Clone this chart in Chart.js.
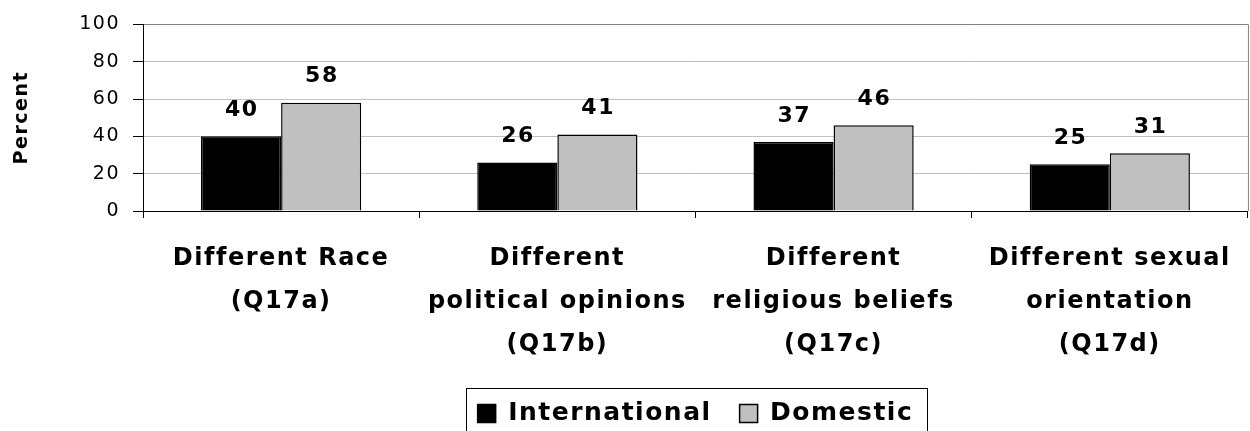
<!DOCTYPE html>
<html>
<head>
<meta charset="utf-8">
<script src="https://cdn.jsdelivr.net/npm/chart.js@4.4.0/dist/chart.umd.min.js"></script>
<style>
  html, body { margin: 0; padding: 0; background: #fff; overflow: hidden; }
  canvas { display: block; }
</style>
</head>
<body>
<canvas id="chart" width="1250" height="431"></canvas>
<script>
// Categories (multi-line labels) and series values, in percent
const categories = [
  ['Different Race', '(Q17a)'],
  ['Different', 'political opinions', '(Q17b)'],
  ['Different', 'religious beliefs', '(Q17c)'],
  ['Different sexual', 'orientation', '(Q17d)']
];
const international = [40, 26, 37, 25];
const domestic = [58, 41, 46, 31];
const yTickValues = [0, 20, 40, 60, 80, 100];
const seriesNames = ['International', 'Domestic'];

const FONT = 'DejaVu Sans';
const SPACING = '1.5px';

// Slightly letter-spaced lettering for every text drawn on the canvas
const textSpacing = {
  id: 'textSpacing',
  beforeUpdate(chart) { chart.ctx.letterSpacing = SPACING; },
  beforeLayout(chart) { chart.ctx.letterSpacing = SPACING; },
  beforeDraw(chart) { chart.ctx.letterSpacing = SPACING; }
};

// Push the legend row a little lower so its frame runs off the bottom edge
const legendShift = {
  id: 'legendShift',
  afterLayout(chart) {
    const lg = chart.legend;
    if (!lg) return;
    lg.top += 5;
    lg.bottom += 5;
  }
};

// Plot frame on the right side
const plotFrame = {
  id: 'plotFrame',
  beforeDatasetsDraw(chart) {
    const { ctx, chartArea } = chart;
    ctx.save();
    ctx.strokeStyle = '#808080';
    ctx.lineWidth = 1;
    ctx.beginPath();
    ctx.moveTo(chartArea.right + 0.5, chartArea.top);
    ctx.lineTo(chartArea.right + 0.5, chartArea.bottom);
    ctx.stroke();
    ctx.restore();
  }
};

// Value labels above each bar
const valueLabels = {
  id: 'valueLabels',
  afterDatasetsDraw(chart) {
    const ctx = chart.ctx;
    ctx.save();
    ctx.letterSpacing = SPACING;
    ctx.font = `bold 22px "${FONT}"`;
    ctx.fillStyle = '#000';
    ctx.textAlign = 'center';
    ctx.textBaseline = 'middle';
    chart.data.datasets.forEach((ds, i) => {
      chart.getDatasetMeta(i).data.forEach((bar, j) => {
        ctx.fillText(String(ds.data[j]), bar.x + 0.75, bar.y - 26);
      });
    });
    ctx.restore();
  }
};

// Border around the legend entries
const legendFrame = {
  id: 'legendFrame',
  afterDraw(chart) {
    const lg = chart.legend;
    if (!lg || !lg.legendHitBoxes || !lg.legendHitBoxes.length) return;
    const hb = lg.legendHitBoxes;
    const last = hb[hb.length - 1];
    const left = Math.round(hb[0].left - 12);
    const right = Math.round(last.left + last.width + 14);
    const top = Math.round(hb[0].top - 13.5);
    const ctx = chart.ctx;
    ctx.save();
    ctx.strokeStyle = '#000';
    ctx.lineWidth = 1;
    ctx.strokeRect(left + 0.5, top + 0.5, right - left, 200);
    ctx.restore();
  }
};

new Chart(document.getElementById('chart'), {
  type: 'bar',
  data: {
    labels: categories,
    datasets: [
      {
        label: seriesNames[0],
        data: international,
        backgroundColor: '#000000',
        borderColor: '#000000',
        borderWidth: 1.5
      },
      {
        label: seriesNames[1],
        data: domestic,
        backgroundColor: '#c0c0c0',
        borderColor: '#000000',
        borderWidth: 1.5
      }
    ]
  },
  options: {
    responsive: false,
    animation: false,
    layout: { padding: { top: 24, right: 2, left: 0, bottom: 0 } },
    datasets: {
      bar: { categoryPercentage: 0.58, barPercentage: 1.0 }
    },
    scales: {
      x: {
        grid: {
          offset: true,
          drawOnChartArea: false,
          drawTicks: true,
          tickLength: 7,
          color: '#000'
        },
        border: { color: '#000', width: 1 },
        ticks: {
          color: '#000',
          padding: 19,
          maxRotation: 0,
          autoSkip: false,
          font: { family: FONT, size: 24, weight: 'bold', lineHeight: 43 / 24 }
        },
        afterFit(scale) { scale.height = 157; }
      },
      y: {
        min: 0,
        max: 100,
        afterBuildTicks(scale) {
          scale.ticks = yTickValues.map(v => ({ value: v }));
        },
        grid: {
          color: ctx => (ctx.tick && ctx.tick.value === 100) ? '#808080' : '#c0c0c0',
          tickColor: '#000',
          tickLength: 10,
          lineWidth: 1
        },
        border: { color: '#000', width: 1 },
        ticks: {
          color: '#000',
          padding: 13,
          font: { family: FONT, size: 19 }
        },
        title: {
          display: true,
          text: 'Percent',
          color: '#000',
          padding: { top: 11, bottom: 0 },
          font: { family: FONT, size: 19, weight: 'bold' }
        },
        afterFit(scale) { scale.width = 143; }
      }
    },
    plugins: {
      legend: {
        position: 'bottom',
        fullSize: false,
        labels: {
          color: '#000',
          boxWidth: 18,
          boxHeight: 18,
          padding: 28,
          font: { family: FONT, size: 25, weight: 'bold' }
        }
      },
      tooltip: { enabled: false }
    }
  },
  plugins: [textSpacing, legendShift, plotFrame, valueLabels, legendFrame]
});
</script>
</body>
</html>
